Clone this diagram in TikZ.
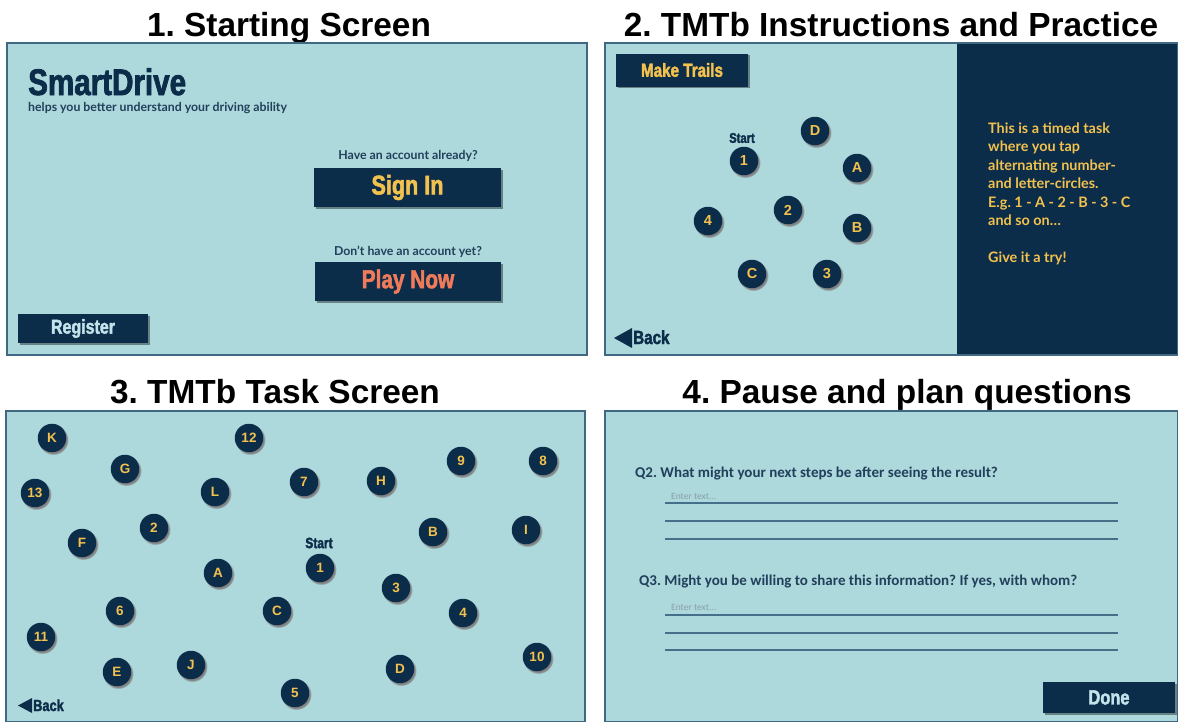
\documentclass[tikz,border=0pt]{standalone}
\usepackage{fontspec}
\setmainfont{Liberation Sans}
\newfontfamily\headfont{Liberation Sans Bold}
\newfontfamily\condfont{Liberation Sans Bold}[FakeStretch=0.8,FakeBold=2]
\newfontfamily\latofont{Lato}
\newfontfamily\latobold{Lato Bold}
\newfontfamily\calbold{Carlito Bold}
\newfontfamily\calfont{Carlito}
\usetikzlibrary{shadows}

\definecolor{screen}{HTML}{ADD9DC}
\definecolor{navy}{HTML}{0C2D4A}
\definecolor{gold}{HTML}{F2C14E}
\definecolor{coral}{HTML}{F07B5A}
\definecolor{pale}{HTML}{C2E3E9}
\definecolor{ink}{HTML}{223F5B}
\definecolor{edge}{HTML}{416883}
\definecolor{rule}{HTML}{46708A}
\definecolor{hint}{HTML}{8A9EA8}

\begin{document}
\frenchspacing
\begin{tikzpicture}[x=1pt,y=-1pt,
  panel/.style={draw=edge, line width=2.3pt, fill=screen},
  ttl/.style={font=\headfont\fontsize{33.4}{40}\selectfont, anchor=base, inner sep=0},
  btn/.style={fill=navy, inner sep=0,
    drop shadow={shadow xshift=1.8pt, shadow yshift=-1.8pt, opacity=0.4, fill=black}},
  tmtdot/.style={circle, fill=navy, minimum size=28.5pt, inner sep=0, text=gold,
    circular drop shadow={shadow xshift=1.2pt, shadow yshift=-1.6pt, shadow scale=1.08}},
  bigdot/.style={tmtdot, font=\headfont\fontsize{14.5}{16}\selectfont},
  smalldot/.style={tmtdot, font=\headfont\fontsize{13.5}{15}\selectfont},
  small/.style={inner sep=0, text=ink, font=\latobold\fontsize{12.3}{14}\selectfont},
  startlbl/.style={inner sep=0, text=navy, font=\condfont\fontsize{14}{16}\selectfont},
  question/.style={anchor=base west, inner sep=0, text=ink, font=\calbold\fontsize{15}{17}\selectfont},
  placeholder/.style={anchor=base west, inner sep=0, text=hint, font=\calfont\fontsize{9.5}{11}\selectfont},
  answer/.style={draw=rule, line width=1.5pt}
]
\useasboundingbox (0,0) rectangle (1178,721);

% ---------- titles ----------
\node[ttl] (t1) at (289,36) {1. Starting Screen};
\node[ttl] (t2) at (891,36) {2. TMTb Instructions and Practice};
\node[ttl] (t3) at (275,403) {3. TMTb Task Screen};
\node[ttl] (t4) at (907,403) {4. Pause and plan questions};

% ---------- 1. starting screen ----------
\draw[panel] (7,43) rectangle (587,355);
\node[anchor=base west, inner sep=0, text=navy, font=\condfont\fontsize{37}{40}\selectfont] (brand) at (28,95) {SmartDrive};
\node[anchor=base west, small] (tagline) at (28,111) {helps you better understand your driving ability};
\node[small] (haveacc) at (408,156) {Have an account already?};
\node[btn, minimum width=187pt, minimum height=39pt, text=gold, font=\condfont\fontsize{27}{30}\selectfont] (signin) at (407.5,187.5) {Sign In};
\node[small] (noacc) at (408,252) {Don’t have an account yet?};
\node[btn, minimum width=186pt, minimum height=39pt, text=coral, font=\condfont\fontsize{26}{30}\selectfont] (playnow) at (408,281.5) {Play Now};
\node[btn, minimum width=130pt, minimum height=29pt, text=pale, font=\condfont\fontsize{20}{24}\selectfont] (register) at (83,328.5) {Register};

% ---------- 2. instructions and practice ----------
\draw[panel] (605,43) rectangle (1178,355);
\fill[navy] (957,43) rectangle (1178,355);
\draw[edge, line width=2.3pt] (605,43) rectangle (1178,355);
\node[btn, minimum width=132pt, minimum height=33pt, text=gold, font=\condfont\fontsize{19}{22}\selectfont] (trails) at (682,70) {Make Trails};
\node[startlbl] (pstart) at (742,138) {Start};
\node[bigdot] (p1) at (744,161) {1};
\node[bigdot] (pD) at (815,131) {D};
\node[bigdot] (pA) at (857,168) {A};
\node[bigdot] (p2) at (788,210) {2};
\node[bigdot] (p4) at (708,221) {4};
\node[bigdot] (pB) at (857,228) {B};
\node[bigdot] (pC) at (752,274) {C};
\node[bigdot] (p3) at (827,274) {3};
\fill[navy] (614,338) -- (632,328) -- (632,348) -- cycle;
\node[anchor=base west, inner sep=0, text=navy, font=\condfont\fontsize{19}{22}\selectfont] (pback) at (633,344) {Back};
\node[anchor=north west, inner sep=0, align=left, text=gold, font=\latobold\fontsize{14.4}{18.5}\selectfont] (instr) at (988,122.5)
  {This is a timed task\\where you tap\\alternating number-\\and letter-circles.\\E.g. 1 - A - 2 - B - 3 - C\\and so on…\\[18.5pt]Give it a try!};

% ---------- 3. task screen ----------
\draw[panel] (6,411) rectangle (585,722);
\node[smalldot] (tK)  at (52,438)  {K};
\node[smalldot] (t12) at (249,438) {12};
\node[smalldot] (tG)  at (125,469) {G};
\node[smalldot] (t13) at (35,493)  {13};
\node[smalldot] (tL)  at (215,492) {L};
\node[smalldot] (t7)  at (304,482) {7};
\node[smalldot] (tH)  at (381,481) {H};
\node[smalldot] (t9)  at (461,461) {9};
\node[smalldot] (t8)  at (543,461) {8};
\node[smalldot] (t2)  at (154,528) {2};
\node[smalldot] (tF)  at (82,543)  {F};
\node[smalldot] (tB)  at (433,532) {B};
\node[smalldot] (tI)  at (526,530) {I};
\node[startlbl, font=\condfont\fontsize{15}{17}\selectfont] (tstart) at (319,543) {Start};
\node[smalldot] (t1)  at (320,568) {1};
\node[smalldot] (tA)  at (218,573) {A};
\node[smalldot] (t3)  at (396,588) {3};
\node[smalldot] (t6)  at (120,611) {6};
\node[smalldot] (tC)  at (277,611) {C};
\node[smalldot] (t4)  at (463,613) {4};
\node[smalldot] (t11) at (41,637)  {11};
\node[smalldot] (t10) at (537,657) {10};
\node[smalldot] (tE)  at (117,672) {E};
\node[smalldot] (tJ)  at (191,665) {J};
\node[smalldot] (tD)  at (400,669) {D};
\node[smalldot] (t5)  at (295,693) {5};
\fill[navy] (18,705.5) -- (32,698) -- (32,713) -- cycle;
\node[anchor=base west, inner sep=0, text=navy, font=\condfont\fontsize{16}{18}\selectfont] (tback) at (33,711) {Back};

% ---------- 4. pause and plan ----------
\draw[panel] (605,411) rectangle (1178,722);
\node[question] (q2) at (635,477) {Q2. What might your next steps be after seeing the result?};
\node[placeholder] (e2) at (671,499) {Enter text...};
\draw[answer] (665,503) -- (1118,503);
\draw[answer] (665,521) -- (1118,521);
\draw[answer] (665,539) -- (1118,539);
\node[question] (q3) at (639,585) {Q3. Might you be willing to share this information? If yes, with whom?};
\node[placeholder] (e3) at (671,610) {Enter text...};
\draw[answer] (665,615) -- (1118,615);
\draw[answer] (665,633) -- (1118,633);
\draw[answer] (665,650) -- (1118,650);
\node[btn, minimum width=132pt, minimum height=31pt, text=pale, font=\condfont\fontsize{20.5}{24}\selectfont] (done) at (1109,697.5) {Done};
\end{tikzpicture}
\end{document}
